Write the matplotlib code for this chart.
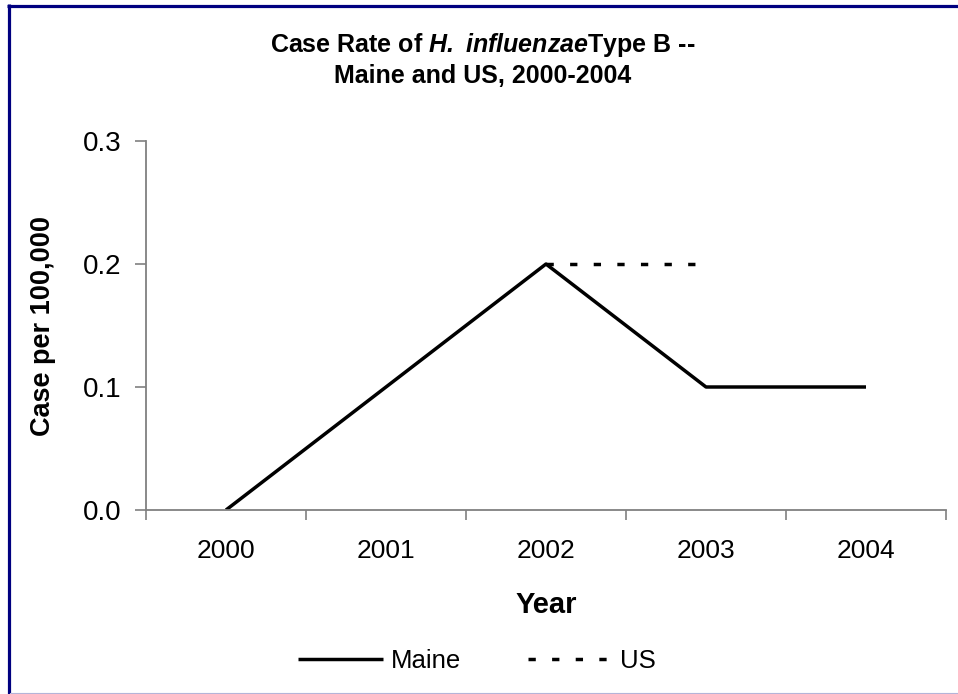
import numpy as np
import matplotlib.pyplot as plt
from matplotlib.lines import Line2D

plt.rcParams['font.family'] = ['Liberation Sans', 'DejaVu Sans']
plt.rcParams['mathtext.fontset'] = 'custom'
plt.rcParams['mathtext.bfit'] = 'Liberation Sans:italic:bold'
plt.rcParams['mathtext.rm'] = 'Liberation Sans'

years = ['2000', '2001', '2002', '2003', '2004']
maine = [0.0, 0.1, 0.2, 0.1, 0.1]
us = [np.nan, np.nan, 0.2, 0.2, np.nan]

fig = plt.figure(figsize=(9.58, 6.94), dpi=100, facecolor='white')
ax = fig.add_axes([146/958, 1-510/694, 800/958, 369/694])

x = np.arange(len(years))
ax.plot(x, maine, '-', color='k', lw=2.5, label='Maine', solid_capstyle='butt')
ax.plot(x, us, color='k', lw=2.5, dashes=(2.1, 4.7), label='US', dash_capstyle='butt')

ax.set_xlim(-0.5, len(years)-0.5)
ax.set_ylim(0, 0.3)
ax.set_yticks([0.0, 0.1, 0.2, 0.3])
ax.set_yticklabels(['0.0', '0.1', '0.2', '0.3'], fontsize=20)
ax.set_xticks(x)
ax.set_xticklabels(years, fontsize=19)
ax.set_xticks(np.arange(-0.5, len(years), 1), minor=True)
ax.tick_params(axis='x', which='major', length=0, pad=21)
ax.tick_params(axis='x', which='minor', length=7, width=1.2, color='#808080', direction='out')
ax.tick_params(axis='y', length=8, width=1.2, color='#808080', direction='out', pad=10)
for s in ['top', 'right']:
    ax.spines[s].set_visible(False)
for s in ['left', 'bottom']:
    ax.spines[s].set_color('#808080')
    ax.spines[s].set_linewidth(1.3)

ax.set_xlabel('Year', fontsize=21, fontweight='bold', labelpad=20)
ax.set_ylabel('Case per 100,000', fontsize=19.5, fontweight='bold', labelpad=19)

fig.text(0.504, 1-45/694, r'Case Rate of $\mathbfit{H.}$ $\mathbfit{influenzae}$Type B --',
         ha='center', va='center', fontsize=18, fontweight='bold')
fig.text(0.504, 1-76/694, 'Maine and US, 2000-2004',
         ha='center', va='center', fontsize=18, fontweight='bold')

fig.legend(loc='center', bbox_to_anchor=(0.498, 1-661/694), ncol=2, frameon=False,
           fontsize=18.5, handlelength=3.3, columnspacing=2.6, handletextpad=0.3)

# chart border
fig.add_artist(Line2D([8.5/958, 8.5/958], [0, 1-4/694], transform=fig.transFigure,
                      color='#000080', lw=2.3, solid_capstyle='butt'))
fig.add_artist(Line2D([7/958, 1], [1-5.5/694, 1-5.5/694], transform=fig.transFigure,
                      color='#000080', lw=2.3, solid_capstyle='butt'))
fig.add_artist(Line2D([10/958, 1], [1.5/694, 1.5/694], transform=fig.transFigure,
                      color='#b4b4d8', lw=0.8))

fig.savefig('out.png', dpi=100, facecolor='white')
